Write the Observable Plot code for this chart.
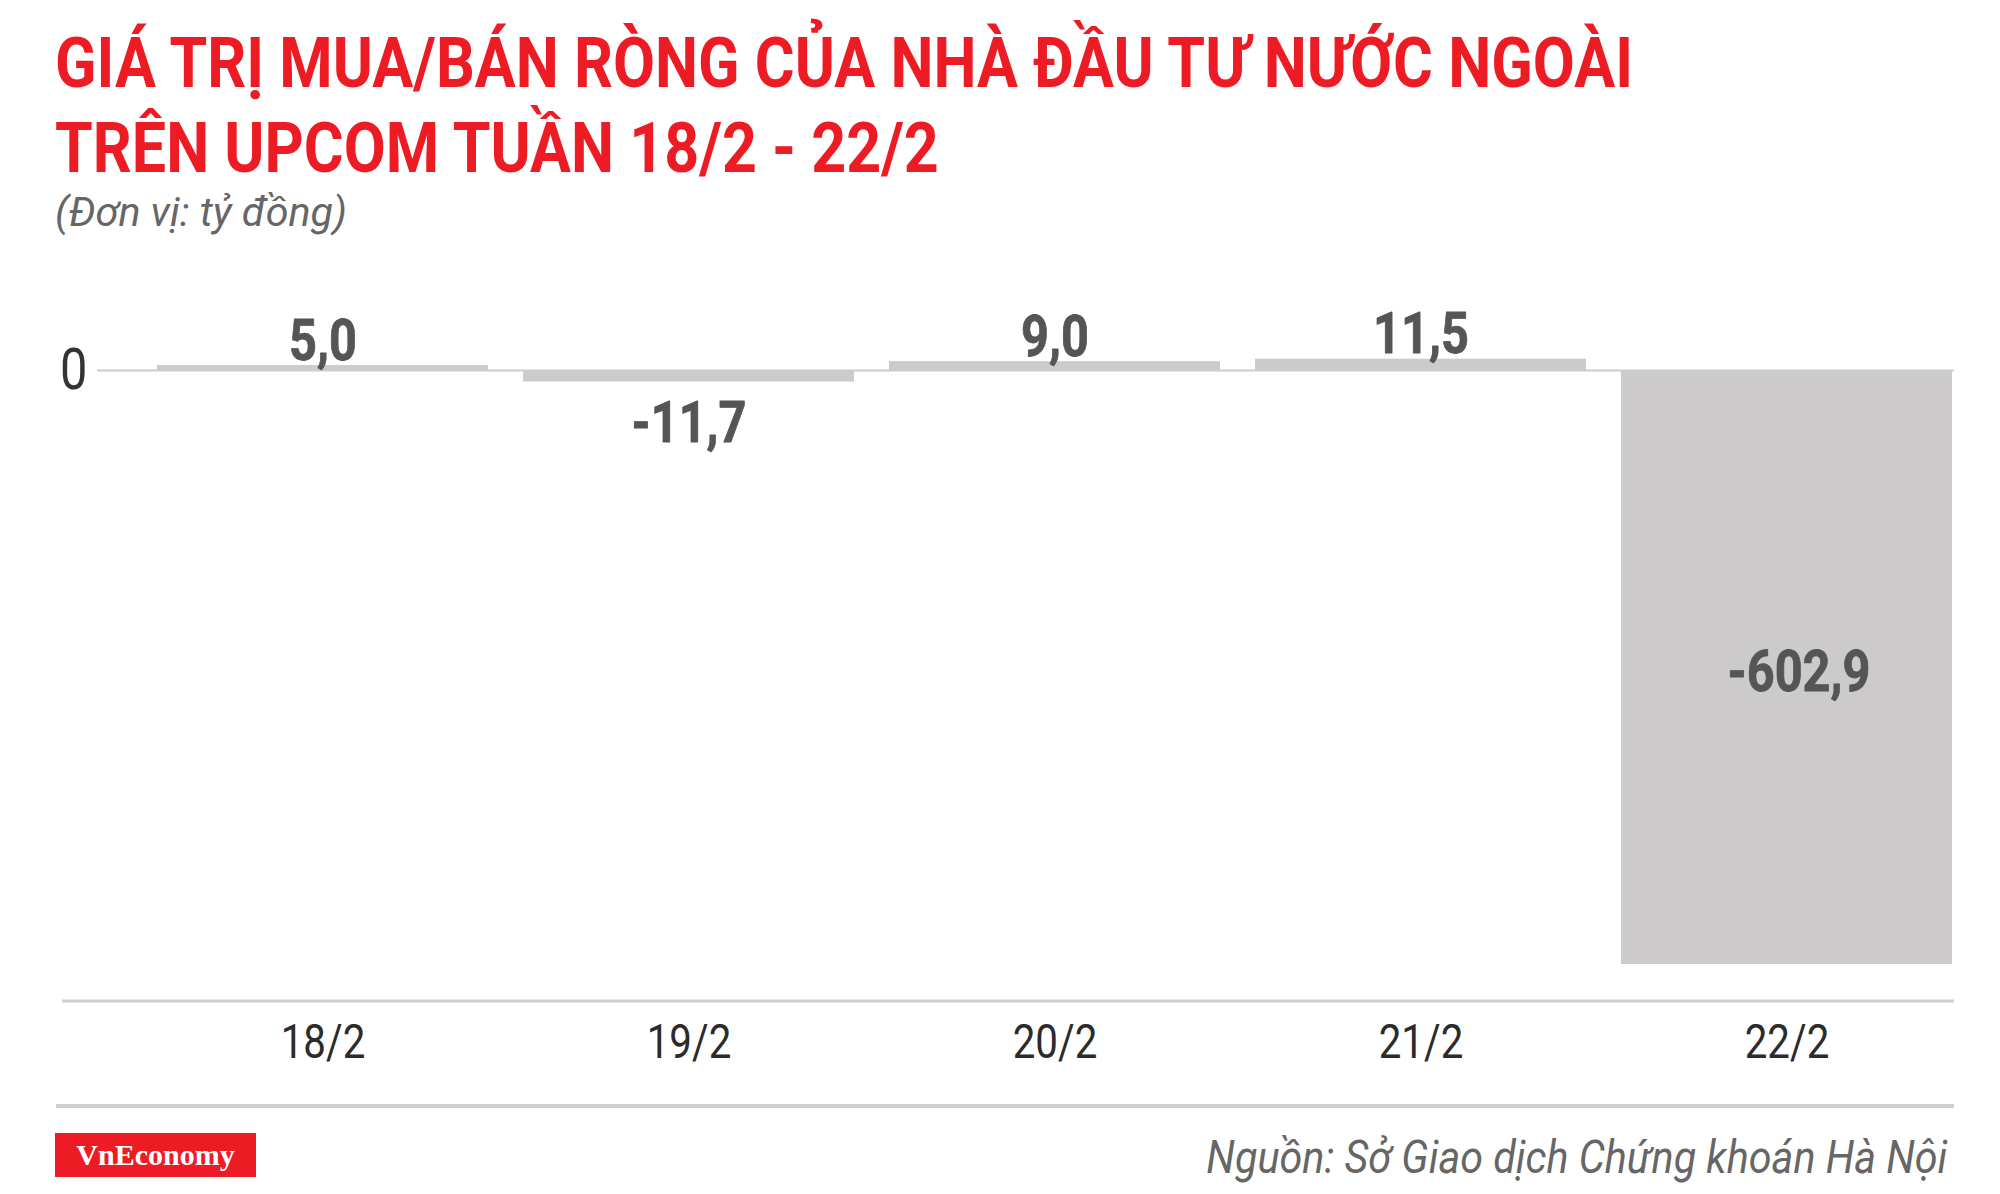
<!DOCTYPE html>
<html>
<head>
<meta charset="utf-8">
<script src="https://cdn.jsdelivr.net/npm/d3@7"></script>
<script src="https://cdn.jsdelivr.net/npm/@observablehq/plot@0.6"></script>
<style>
  html, body { margin: 0; padding: 0; background: #fff; }
  body { width: 2000px; height: 1194px; position: relative; overflow: hidden; font-family: Roboto, "Noto Sans", sans-serif; }
  .abs { position: absolute; white-space: nowrap; }
  .abs > span { display: inline-block; }
  .title { left: 55px; color: #ed1c24; font-weight: 700; font-size: 70px; line-height: 70px; }
  .sub { left: 55px; top: 192px; color: #666; font-style: italic; font-size: 41px; line-height: 41px; }
  .src { right: 53px; top: 1134px; color: #666; font-style: italic; font-size: 46px; line-height: 46px; }
  .rule { position: absolute; left: 56px; top: 1104px; width: 1898px; height: 4px; background: #cfcfcf; }
  .logo { position: absolute; left: 55px; top: 1133px; width: 201px; height: 44px; background: #ed1c24;
          color: #fff; font-family: "Liberation Serif", "Times New Roman", serif; font-weight: 700;
          font-size: 30px; line-height: 44px; text-align: center; }
  #chart { position: absolute; left: 0; top: 240px; }
</style>
</head>
<body>
<div id="t1" class="abs title" style="top:28px"><span>GIÁ TRỊ MUA/BÁN RÒNG CỦA NHÀ ĐẦU TƯ NƯỚC NGOÀI</span></div>
<div id="t2" class="abs title" style="top:113px"><span>TRÊN UPCOM TUẦN 18/2 - 22/2</span></div>
<div id="sub" class="abs sub"><span>(Đơn vị: tỷ đồng)</span></div>
<div id="chart"></div>
<div class="rule"></div>
<div class="logo">VnEconomy</div>
<div id="src" class="abs src"><span>Nguồn: Sở Giao dịch Chứng khoán Hà Nội</span></div>

<script>
// ---- data ----
const days = ["18/2", "19/2", "20/2", "21/2", "22/2"];
const values = [5.0, -11.7, 9.0, 11.5, -602.9];
const zeroTick = [0];
const yDomain = [-640, 30];

// ---- helpers ----
function fit(span, target, origin) {
  const w = span.getBoundingClientRect().width;
  const k = target / w;
  span.style.transformOrigin = origin;
  span.style.transform = `scaleX(${k})`;
  return k;
}
const k1 = fit(document.querySelector("#t1 span"), 1578, "left center");
const t2 = document.querySelector("#t2 span");
t2.style.transformOrigin = "left center";
t2.style.transform = `scaleX(${k1})`;
fit(document.querySelector("#sub span"), 292, "left center");
fit(document.querySelector("#src span"), 741, "right center");

const data = days.map((d, i) => ({day: d, v: values[i]}));
const fmt = d3.formatLocale({decimal: ",", thousands: ".", grouping: [3], currency: ["", ""], minus: "-"}).format(".1f");
const big = d => Math.abs(d.v) > 100;
const labelStyle = {fontSize: 58, fontWeight: 700, fill: "#555555", stroke: "#555555", strokeWidth: 0.8, ariaLabel: "values"};

const plot = Plot.plot({
  width: 2000,
  height: 840,
  marginLeft: 62,
  marginRight: 46,
  marginTop: 0,
  marginBottom: 80,
  style: {fontFamily: "Roboto, sans-serif", fontSize: "48px", color: "#2b2b2b", background: "transparent", overflow: "visible"},
  x: {domain: days, range: [155, 1954], paddingInner: 0.0955, paddingOuter: 0, axis: "bottom", tickSize: 0, tickPadding: 23, label: null},
  y: {domain: yDomain, range: [760.55, 100.44], axis: null},
  marks: [
    Plot.ruleY(zeroTick, {stroke: "#cccccc", strokeWidth: 2, insetLeft: 35}),
    Plot.barY(data, {x: "day", y: "v", fill: "#cccacb"}),
    Plot.ruleY([yDomain[0]], {stroke: "#cfcfcf", strokeWidth: 3}),
    Plot.text(zeroTick, {y: d => d, text: d => String(d), frameAnchor: "left", dx: 25, textAnchor: "end", lineAnchor: "middle", fontSize: 58, fill: "#333333", ariaLabel: "zero"}),
    Plot.text(data.filter(d => !big(d) && d.v >= 0), {x: "day", y: "v", text: d => fmt(d.v), lineAnchor: "middle", dy: -24.6, ...labelStyle}),
    Plot.text(data.filter(d => !big(d) && d.v < 0), {x: "day", y: "v", text: d => fmt(d.v), lineAnchor: "middle", dy: 41.4, ...labelStyle}),
    Plot.text(data.filter(d => big(d)), {x: "day", y: d => d.v / 2, text: d => fmt(d.v), lineAnchor: "middle", dy: 5, dx: 12, ...labelStyle})
  ]
});

document.getElementById("chart").appendChild(plot);

// condense text (the original uses a condensed typeface)
plot.querySelectorAll("text").forEach(el => {
  const g = el.closest("[aria-label]");
  const lab = g ? g.getAttribute("aria-label") : "";
  const k = lab === "values" ? 0.93 : 0.84;
  const t = el.getAttribute("transform") || "";
  el.setAttribute("transform", (t + ` scale(${k},1)`).trim());
});
</script>
</body>
</html>
